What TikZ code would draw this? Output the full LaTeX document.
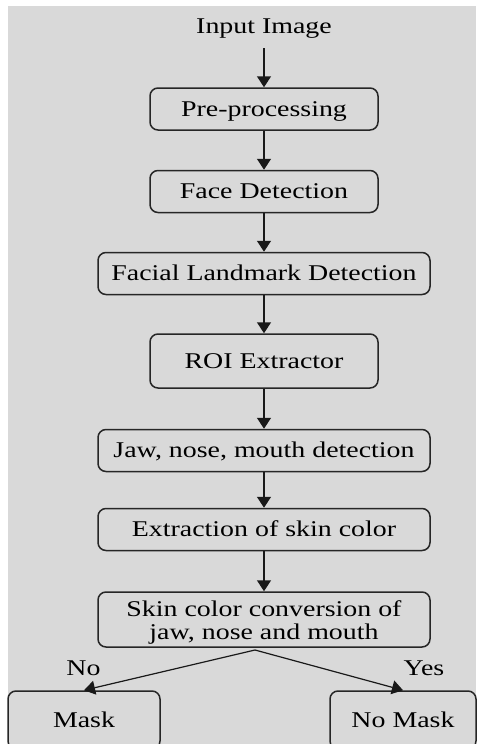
\documentclass[tikz,border=0pt]{standalone}
\usepackage{fontspec}
\setmainfont[FakeStretch=1.24]{Liberation Serif}
\usetikzlibrary{arrows.meta}

\definecolor{panelgray}{RGB}{217,217,217}

\begin{document}
\begin{tikzpicture}[x=1pt, y=-1pt,
		every node/.style={font=\fontsize{22.5}{23}\selectfont},
		box/.style={draw=black!85, line width=1.5pt, rounded corners=8pt, inner sep=0pt},
		stage/.style={box, minimum height=42pt, text height=16pt, text depth=2pt},
		flow/.style={-{Triangle[width=14pt,length=11pt]}, line width=1.5pt, draw=black!90}]
		% Fix the page and draw the gray panel
		\useasboundingbox (0,0) rectangle (477,744);
		\fill[panelgray] (8,6) rectangle (476,744);

		% Draw the pipeline stages
		\node[minimum height=44pt, inner sep=0pt, text height=16pt, text depth=2pt] (input) at (264,26) {Input Image};
		\node[stage, minimum width=228pt] (pre) at (264,109) {Pre-processing};
		\node[stage, minimum width=228pt] (face) at (264,191.5) {Face Detection};
		\node[stage, minimum width=332pt] (landmark) at (264,273.5) {Facial Landmark Detection};
		\node[stage, minimum width=228pt, minimum height=54pt] (roi) at (264,361) {ROI Extractor};
		\node[stage, minimum width=332pt] (jaw) at (264,450.5) {Jaw, nose, mouth detection};
		\node[stage, minimum width=332pt] (skin) at (264,529.5) {Extraction of skin color};
		\node[box, minimum width=332pt, minimum height=55pt, align=center, text height=44pt, text depth=5pt] (conv) at (264,619.5) {Skin color conversion of\\jaw, nose and mouth};

		% Draw the two outcomes
		\node[stage, minimum width=152pt, minimum height=58pt] (mask) at (84,720) {Mask};
		\node[stage, minimum width=146pt, minimum height=58pt] (nomask) at (403,720) {No Mask};
		\coordinate (split) at (255,650);

		% Draw the arrows
		\draw[flow] (input) -- (pre);
		\draw[flow] (pre) -- (face);
		\draw[flow] (face) -- (landmark);
		\draw[flow] (landmark) -- (roi);
		\draw[flow] (roi) -- (jaw);
		\draw[flow] (jaw) -- (skin);
		\draw[flow] (skin) -- (conv);
		\draw[flow, line width=1.2pt] (split) -- (mask.north);
		\draw[flow, line width=1.2pt] (split) -- (nomask.north);

		\node (no) at (83.5,668) {No};
		\node (yes) at (424,668) {Yes};

	\end{tikzpicture}
\end{document}
